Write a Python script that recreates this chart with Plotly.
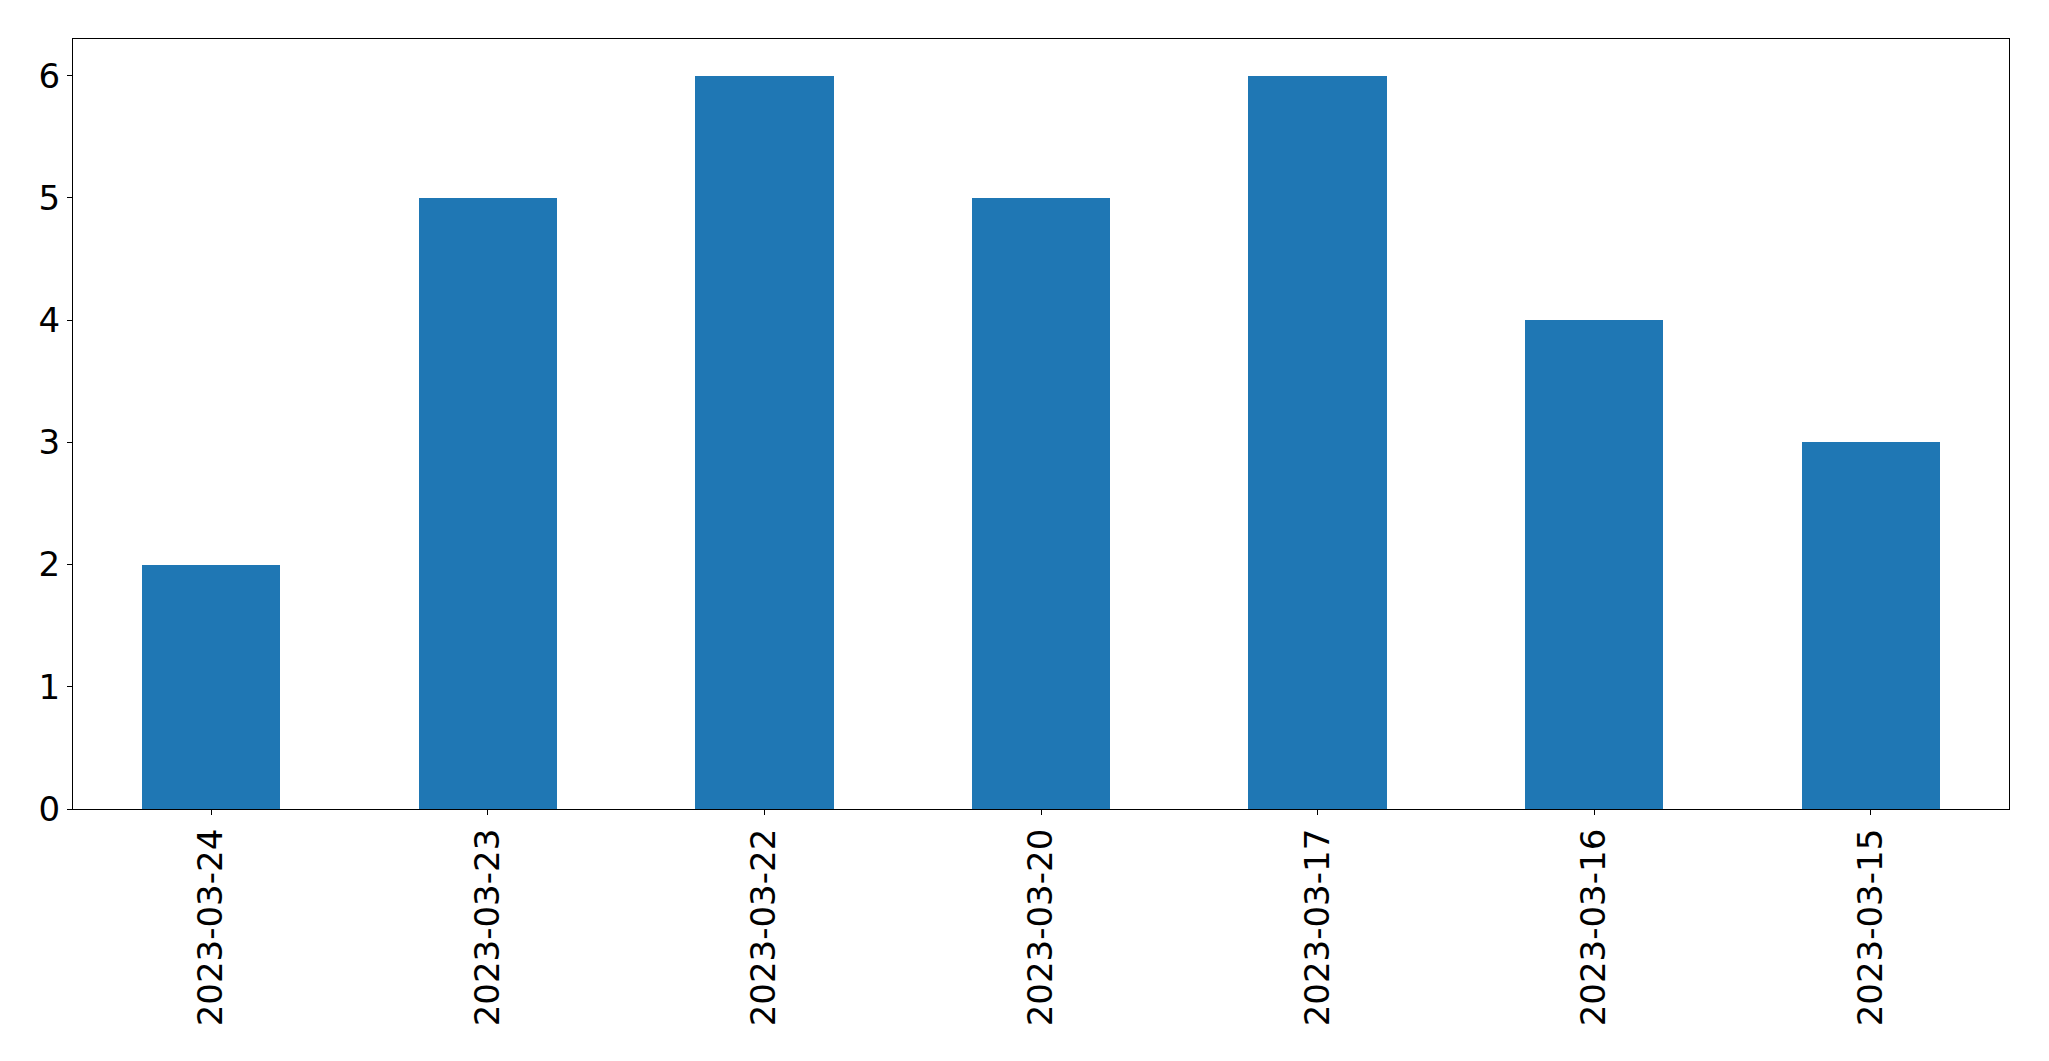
import plotly.graph_objects as go

dates = ["2023-03-24", "2023-03-23", "2023-03-22", "2023-03-20", "2023-03-17", "2023-03-16", "2023-03-15"]
counts = [2, 5, 6, 5, 6, 4, 3]
y_ticks = [0, 1, 2, 3, 4, 5, 6]

fig = go.Figure(go.Bar(x=dates, y=counts, width=0.5, marker=dict(color="#1f77b4", line=dict(width=0))))

axis_common = dict(
    showline=True, linecolor="black", linewidth=1.3, mirror=True,
    ticks="outside", ticklen=5, tickwidth=1.3, tickcolor="black",
    showgrid=False, zeroline=False,
    tickfont=dict(family="DejaVu Sans", size=34, color="black"),
)

# page body has an 8px margin; the figure is sized and offset to compensate
fig.update_layout(
    width=2033, height=1045,
    margin=dict(l=64.5, r=31.7, t=31.3, b=244),
    paper_bgcolor="white", plot_bgcolor="white",
    showlegend=False,
    bargap=0,
    xaxis=dict(type="category", range=[-0.5, 6.5], tickangle=-90, **axis_common),
    yaxis=dict(range=[0, 6.3], tickvals=y_ticks, **axis_common),
)

fig.write_html("out.html")
